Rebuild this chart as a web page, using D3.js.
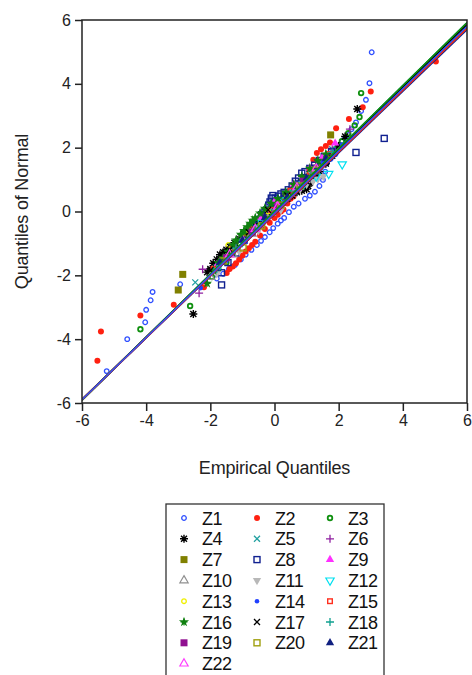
<!DOCTYPE html>
<html>
<head>
<meta charset="utf-8">
<script src="https://cdn.jsdelivr.net/npm/d3@7"></script>
<style>
  body { margin: 0; background: #fff; }
  svg { display: block; font-family: "Liberation Sans", Arial, sans-serif; }
</style>
</head>
<body>
<script>
// quantile pairs [empirical, normal]
const Z1 = [[-5.23,-5.00],[-4.59,-4.00],[-4.03,-3.47],[-4.00,-3.08],[-3.86,-2.78],[-3.80,-2.52],[-2.94,-2.28],[-1.80,-2.10],[-1.60,-1.95],[-1.42,-1.80],[-1.23,-1.67],[-1.05,-1.50],[-0.90,-1.35],[-0.72,-1.20],[-0.55,-1.05],[-0.42,-0.92],[-0.30,-0.80],[-0.15,-0.65],[-0.04,-0.52],[0.10,-0.38],[0.20,-0.28],[0.30,-0.20],[0.45,-0.02],[0.60,0.15],[0.75,0.25],[0.95,0.40],[1.10,0.50],[1.26,0.62],[1.40,0.80],[1.51,0.99],[1.58,1.25],[1.63,1.51],[1.75,1.65],[1.90,1.80],[2.00,2.00],[2.10,2.20],[2.20,2.30],[2.30,2.40],[2.40,2.58],[2.54,2.79],[2.70,3.15],[2.85,3.50],[2.96,4.02],[3.03,4.99]];
const Z2 = [[-5.52,-4.68],[-5.41,-3.76],[-4.18,-3.26],[-3.14,-2.92],[-2.20,-2.37],[-1.49,-1.93],[-1.40,-1.80],[-1.30,-1.72],[-1.20,-1.62],[-1.10,-1.50],[-1.00,-1.38],[-0.90,-1.25],[-0.80,-1.15],[-0.70,-1.05],[-0.60,-0.95],[-0.45,-0.75],[-0.30,-0.55],[-0.15,-0.35],[0.00,-0.20],[0.10,-0.10],[0.20,0.00],[0.28,0.06],[0.40,0.25],[0.50,0.40],[0.59,0.47],[0.70,0.65],[0.80,0.85],[0.90,0.95],[1.00,1.10],[1.10,1.35],[1.21,1.62],[1.32,1.83],[1.45,1.95],[1.60,2.05],[1.73,2.16],[1.92,2.61],[2.32,2.90],[2.75,3.27],[3.00,3.76],[5.03,4.70]];
const Z3 = [[-4.18,-3.69],[-2.63,-2.96],[-1.95,-2.05],[-1.75,-1.80],[-1.50,-1.60],[-1.30,-1.30],[-1.10,-1.00],[-0.90,-0.70],[-0.76,-0.50],[-0.60,-0.35],[-0.45,-0.20],[-0.25,-0.02],[-0.10,0.15],[0.10,0.32],[0.30,0.50],[0.50,0.68],[0.70,0.85],[0.90,1.02],[1.10,1.20],[1.30,1.38],[1.50,1.55],[1.70,1.75],[1.90,1.95],[2.10,2.20],[2.30,2.45],[2.50,2.70],[2.65,2.96],[2.70,3.71]];
const Z4 = [[-2.53,-3.21],[-2.10,-1.90],[-2.00,-1.80],[-1.91,-1.62],[-1.80,-1.50],[-1.70,-1.35],[-1.60,-1.28],[-1.50,-1.20],[-1.39,-1.10],[-1.25,-0.98],[-1.10,-0.85],[-0.95,-0.70],[-0.80,-0.55],[-0.65,-0.45],[-0.50,-0.30],[-0.35,-0.18],[-0.20,-0.05],[-0.05,0.08],[0.10,0.20],[0.25,0.30],[0.40,0.40],[0.55,0.50],[0.70,0.60],[0.85,0.65],[1.00,0.70],[1.05,0.80],[1.10,0.90],[1.15,1.00],[1.20,1.08],[1.30,1.15],[1.40,1.25],[1.60,1.50],[1.80,1.75],[2.00,2.05],[2.20,2.35],[2.58,3.21]];
const Z5 = [[-2.47,-2.22],[-1.80,-1.75],[-1.20,-1.20],[-0.60,-0.50],[0.00,0.10],[0.60,0.70],[1.20,1.30],[1.80,1.95]];
const Z6 = [[-2.35,-2.56],[-2.24,-1.81],[-1.70,-1.55],[-1.20,-1.10],[-0.70,-0.60],[-0.20,-0.05],[0.30,0.45],[0.80,0.95],[1.30,1.45],[1.80,1.95],[2.35,2.58]];
const Z7 = [[-3.00,-2.46],[-2.86,-1.97],[-1.60,-1.55],[-0.90,-0.80],[-0.30,-0.10],[0.30,0.45],[0.90,1.05],[1.40,1.55],[1.75,2.40]];
const Z8 = [[-1.65,-2.30],[-1.65,-1.92],[-1.45,-1.60],[-1.20,-1.30],[-0.95,-0.90],[-0.70,-0.55],[-0.50,-0.25],[-0.40,-0.10],[-0.30,-0.02],[-0.24,0.05],[-0.18,0.20],[-0.14,0.30],[-0.10,0.42],[-0.05,0.50],[0.02,0.11],[0.05,0.25],[0.02,0.42],[0.12,0.48],[0.20,0.55],[0.30,0.60],[0.43,0.68],[0.55,0.80],[0.65,0.95],[0.75,1.05],[0.85,1.20],[0.95,1.25],[1.10,1.35],[1.25,1.45],[1.40,1.60],[1.55,1.72],[1.78,1.88],[2.54,1.85],[3.42,2.29]];
const Z9 = [[-1.80,-1.70],[-1.00,-0.85],[-0.45,-0.21],[0.00,0.30],[0.60,0.85],[1.10,1.35],[1.50,1.70],[1.89,2.14]];
const Z10 = [[-2.00,-2.05],[-1.30,-1.35],[-0.70,-0.70],[-0.10,-0.05],[0.50,0.55],[1.10,1.15],[1.60,1.65]];
const Z11 = [[-1.80,-1.95],[-1.10,-1.25],[-0.50,-0.60],[0.20,0.05],[0.80,0.70],[1.00,0.85],[1.20,0.95],[1.35,1.02],[1.52,1.10]];
const Z12 = [[-1.70,-1.65],[-1.00,-0.95],[-0.40,-0.35],[0.30,0.35],[0.90,0.85],[1.30,1.10],[1.69,1.18],[2.11,1.48]];
const Z13 = [[-1.44,-1.05],[-0.80,-0.60],[-0.20,0.00],[0.40,0.50],[1.00,1.00]];
const Z14 = [[-2.30,-2.40],[-1.50,-1.55],[-0.90,-0.95],[-0.30,-0.30],[0.30,0.30],[0.90,0.90],[1.50,1.55],[2.10,2.10]];
const Z15 = [[-1.90,-1.80],[-1.30,-1.15],[-0.70,-0.55],[-0.10,0.05],[0.50,0.65],[1.10,1.25],[1.70,1.80]];
const Z16 = [[-2.10,-2.25],[-1.90,-1.85],[-1.75,-1.60],[-1.60,-1.45],[-1.45,-1.25],[-1.30,-1.05],[-1.20,-0.90],[-1.05,-0.72],[-0.95,-0.60],[-0.85,-0.48],[-0.76,-0.37],[-0.68,-0.28],[-0.60,-0.20],[-0.45,-0.05],[-0.30,0.10],[-0.10,0.25],[0.10,0.40],[0.35,0.60],[0.60,0.85],[0.85,1.10],[1.10,1.35],[1.35,1.60],[1.60,1.80]];
const Z17 = [[-2.00,-1.85],[-1.40,-1.20],[-0.80,-0.65],[-0.20,0.05],[0.40,0.50],[1.00,0.95],[1.60,1.55]];
const Z18 = [[-1.80,-1.80],[-1.20,-1.15],[-0.60,-0.55],[0.00,0.05],[0.60,0.65],[1.20,1.20],[1.80,1.85]];
const Z19 = [[-1.50,-1.45],[-0.70,-0.65],[0.10,0.15],[0.90,0.95]];
const Z20 = [[-1.60,-1.55],[-0.98,-1.14],[-0.40,-0.45],[0.20,0.20],[0.80,0.80],[1.30,1.30]];
const Z21 = [[-1.70,-1.60],[-1.00,-0.90],[-0.30,-0.20],[0.40,0.45],[1.00,1.05],[1.60,1.65]];
const Z22 = [[-1.40,-1.35],[-0.60,-0.55],[0.10,0.15],[0.70,0.75],[1.30,1.35]];

const seriesNames = ["Z1","Z2","Z3","Z4","Z5","Z6","Z7","Z8","Z9","Z10","Z11",
                     "Z12","Z13","Z14","Z15","Z16","Z17","Z18","Z19","Z20","Z21","Z22"];
const seriesData = [Z1,Z2,Z3,Z4,Z5,Z6,Z7,Z8,Z9,Z10,Z11,Z12,Z13,Z14,Z15,Z16,Z17,Z18,Z19,Z20,Z21,Z22];
// fitted reference line per series: normal = intercept + slope * empirical
const lineSlope = [0.975,0.97,0.985,0.98,0.975,0.98,0.97,0.965,0.975,0.98,0.975,
                   0.97,0.98,0.975,0.97,0.985,0.98,0.985,0.975,0.98,0.97,0.975];
const lineIntercept = [-0.05,-0.08,0.0,-0.02,-0.04,-0.03,-0.06,-0.1,-0.04,-0.03,-0.05,
                       -0.07,-0.02,-0.05,-0.06,0.0,-0.02,0.01,-0.04,-0.03,-0.08,-0.05];
const xTicks = [-6,-4,-2,0,2,4,6];
const yTicks = [-6,-4,-2,0,2,4,6];

const colors = ["#3050ff","#ff2010","#109010","#000000","#20a0a0","#9020a0","#808000","#102090",
                "#ff30ff","#909090","#b8b8b8","#00e0f0","#f0f000","#2040ff","#ff3020","#108010",
                "#000000","#10a090","#901090","#a0a010","#102080","#ff40ff"];
const shapes = ["circleOpen","circleFilled","circleThick","asterisk","times","plus","squareFilled","squareOpen",
                "triFilled","triOpen","triDownFilled","triDownOpen","circleOpen","dotFilled","squareOpenSmall","star",
                "times","plus","squareFilled","squareOpen","triFilled","triOpen"];

const W = 472, H = 675;
const m = {left: 82, top: 20, right: 467, bottom: 403};

const svg = d3.select("body").append("svg")
    .attr("width", W)
    .attr("height", H);

const x = d3.scaleLinear().domain([-6, 6]).range([m.left, m.right]);
const y = d3.scaleLinear().domain([-6, 6]).range([m.bottom, m.top]);

// marker drawing, one function for every shape
function drawMarker(g, shape, color) {
    if (shape == "circleOpen") {
        g.append("circle").attr("r", 2.3).attr("fill", "none").attr("stroke", color).attr("stroke-width", 1.3);
    } else if (shape == "circleThick") {
        g.append("circle").attr("r", 2.3).attr("fill", "none").attr("stroke", color).attr("stroke-width", 1.8);
    } else if (shape == "circleFilled") {
        g.append("circle").attr("r", 3).attr("fill", color);
    } else if (shape == "dotFilled") {
        g.append("circle").attr("r", 2.3).attr("fill", color);
    } else if (shape == "squareFilled") {
        g.append("rect").attr("x", -3.5).attr("y", -3.5).attr("width", 7).attr("height", 7).attr("fill", color);
    } else if (shape == "squareOpen") {
        g.append("rect").attr("x", -3).attr("y", -3).attr("width", 6).attr("height", 6)
            .attr("fill", "none").attr("stroke", color).attr("stroke-width", 1.4);
    } else if (shape == "squareOpenSmall") {
        g.append("rect").attr("x", -2.3).attr("y", -2.3).attr("width", 4.6).attr("height", 4.6)
            .attr("fill", "none").attr("stroke", color).attr("stroke-width", 1.4);
    } else if (shape == "triFilled" || shape == "triOpen" || shape == "triDownFilled" || shape == "triDownOpen") {
        const p = d3.symbol().type(d3.symbolTriangle).size(30)();
        const t = g.append("path").attr("d", p);
        if (shape.indexOf("Down") > 0) t.attr("transform", "rotate(180)");
        if (shape.indexOf("Filled") > 0) t.attr("fill", color);
        else t.attr("fill", "none").attr("stroke", color).attr("stroke-width", 1.2);
    } else if (shape == "plus") {
        g.append("path").attr("d", "M-4,0H4M0,-4V4").attr("stroke", color).attr("stroke-width", 1.3);
    } else if (shape == "times") {
        g.append("path").attr("d", "M-3,-3L3,3M-3,3L3,-3").attr("stroke", color).attr("stroke-width", 1.3);
    } else if (shape == "asterisk") {
        g.append("path").attr("d", "M-4,0H4M0,-4V4M-3,-3L3,3M-3,3L3,-3").attr("stroke", color).attr("stroke-width", 1.4);
    } else if (shape == "star") {
        g.append("path").attr("d", d3.symbol().type(d3.symbolStar).size(32)()).attr("fill", color);
        g.append("path").attr("d", "M-3.5,0H3.5M0,-3.5V3.5").attr("stroke", color).attr("stroke-width", 1.2);
    }
}

svg.append("clipPath").attr("id", "plotclip")
  .append("rect")
    .attr("x", m.left).attr("y", m.top)
    .attr("width", m.right - m.left).attr("height", m.bottom - m.top);

const plot = svg.append("g").attr("clip-path", "url(#plotclip)");

// points
seriesData.forEach((pts, i) => {
    plot.append("g").selectAll("g")
        .data(pts)
        .enter()
        .append("g")
            .attr("transform", d => "translate(" + x(d[0]) + "," + y(d[1]) + ")")
            .each(function() { drawMarker(d3.select(this), shapes[i], colors[i]); });
});

// reference lines, drawn last-to-first so Z1 (blue) and the greens end on top
d3.range(seriesData.length - 1, -1, -1).forEach(i => {
    plot.append("line")
        .attr("x1", x(-6))
        .attr("y1", y(lineIntercept[i] + lineSlope[i] * -6))
        .attr("x2", x(6))
        .attr("y2", y(lineIntercept[i] + lineSlope[i] * 6))
        .attr("stroke", colors[i])
        .attr("stroke-width", 1.4);
});

// frame
svg.append("rect")
    .attr("x", m.left).attr("y", m.top)
    .attr("width", m.right - m.left).attr("height", m.bottom - m.top)
    .attr("fill", "none")
    .attr("stroke", "#222")
    .attr("stroke-width", 1.5);

const xAxis = d3.axisBottom(x).tickValues(xTicks).tickSize(8).tickPadding(4).tickFormat(d => String(d));
const yAxis = d3.axisLeft(y).tickValues(yTicks).tickSize(7).tickPadding(4).tickFormat(d => String(d));

const gx = svg.append("g")
    .attr("transform", "translate(0," + m.bottom + ")")
    .call(xAxis);
const gy = svg.append("g")
    .attr("transform", "translate(" + m.left + ",0)")
    .call(yAxis);

[gx, gy].forEach(g => {
    g.select(".domain").remove();
    g.selectAll(".tick line").attr("stroke", "#222").attr("stroke-width", 1.5);
    g.selectAll(".tick text")
        .attr("fill", "#222")
        .style("font-size", "16px")
        .style("font-family", "'Liberation Sans', Arial, sans-serif");
});

svg.append("text")
    .attr("x", (m.left + m.right) / 2)
    .attr("y", 474)
    .attr("text-anchor", "middle")
    .attr("fill", "#222")
    .style("font-size", "18px")
    .style("letter-spacing", "-0.2px")
    .text("Empirical Quantiles");

svg.append("text")
    .attr("transform", "translate(28," + ((m.top + m.bottom) / 2) + ") rotate(-90)")
    .attr("text-anchor", "middle")
    .attr("fill", "#222")
    .style("font-size", "18px")
    .style("letter-spacing", "-0.2px")
    .text("Quantiles of Normal");

// legend
const legend = svg.append("g").attr("id", "legend");

legend.append("rect")
    .attr("x", 166).attr("y", 504)
    .attr("width", 218).attr("height", 180)
    .attr("fill", "#fff")
    .attr("stroke", "#333")
    .attr("stroke-width", 1.3);

seriesNames.forEach((name, i) => {
    const col = i % 3, row = Math.floor(i / 3);
    const lx = 184 + col * 73, ly = 518 + row * 20.8;
    drawMarker(legend.append("g").attr("transform", "translate(" + lx + "," + ly + ")"), shapes[i], colors[i]);
    legend.append("text")
        .attr("x", lx + 18)
        .attr("y", ly + 6.5)
        .attr("fill", "#111")
        .style("font-size", "18px")
        .style("letter-spacing", "-0.5px")
        .text(name);
});
</script>
</body>
</html>
